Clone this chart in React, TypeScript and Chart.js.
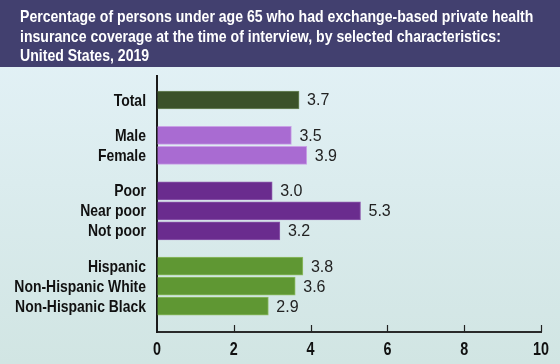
import React, { useEffect, useRef } from "react";
import { Chart, registerables } from "chart.js";

Chart.register(...registerables);

const titleLines = [
  "Percentage of persons under age 65 who had exchange-based private health",
  "insurance coverage at the time of interview, by selected characteristics:",
  "United States, 2019",
];
const categories = [
  "Total",
  "Male",
  "Female",
  "Poor",
  "Near poor",
  "Not poor",
  "Hispanic",
  "Non-Hispanic White",
  "Non-Hispanic Black",
];
const values = [3.7, 3.5, 3.9, 3.0, 5.3, 3.2, 3.8, 3.6, 2.9];
const groupOf = [0, 1, 1, 2, 2, 2, 3, 3, 3];
const groupColors = ["#3b5229", "#a96bd2", "#6a2c8e", "#5f9733"];
const groupBorders = ["#6f8a5e", "#c9a2e6", "#8d5aad", "#8fbc66"];
const xTicks = [0, 2, 4, 6, 8, 10];

const BOLD = '"Liberation Sans", Arial, sans-serif';
const REGULAR = '"Liberation Sans", Arial, sans-serif';
const SQUEEZE = 0.82;
const TITLE_SQUEEZE = 0.865;

const GROUP_GAP = 0.77;
const positions = categories.map((_, i) => i + groupOf[i] * GROUP_GAP);

function drawSqueezed(
  ctx: CanvasRenderingContext2D,
  text: string,
  x: number,
  y: number,
  align: CanvasTextAlign,
  baseline: CanvasTextBaseline,
  font: string,
  color: string,
  squeeze: number = SQUEEZE
) {
  ctx.save();
  ctx.font = font;
  ctx.fillStyle = color;
  ctx.textAlign = align;
  ctx.textBaseline = baseline;
  ctx.translate(x, y);
  ctx.scale(squeeze, 1);
  ctx.fillText(text, 0, 0);
  ctx.restore();
}

export default function App() {
  const canvasRef = useRef<HTMLCanvasElement | null>(null);

  useEffect(() => {
    const canvas = canvasRef.current;
    if (!canvas) return;

    const backgroundPlugin = {
      id: "bg",
      beforeDraw(chart: any) {
        const { ctx, width, height } = chart;
        ctx.save();
        const g = ctx.createLinearGradient(0, 0, 0, height);
        g.addColorStop(0, "#e5f3f9");
        g.addColorStop(1, "#d1e5e3");
        ctx.fillStyle = g;
        ctx.fillRect(0, 0, width, height);
        ctx.fillStyle = "#42406f";
        ctx.fillRect(0, 0, width, 67);
        ctx.restore();
        titleLines.forEach((line, i) => {
          drawSqueezed(ctx, line, 20, 22 + i * 19.7, "left", "alphabetic", `bold 16.3px ${BOLD}`, "#ffffff", TITLE_SQUEEZE);
        });
      },
    };

    const overlayPlugin = {
      id: "overlay",
      afterDatasetsDraw(chart: any) {
        const { ctx } = chart;
        const meta = chart.getDatasetMeta(0);
        ctx.save();
        ctx.font = `16px ${REGULAR}`;
        ctx.fillStyle = "#222222";
        ctx.textAlign = "left";
        ctx.textBaseline = "middle";
        meta.data.forEach((el: any, i: number) => {
          ctx.fillText(values[i].toFixed(1), el.x + 8, el.y + 1);
        });
        ctx.restore();
      },
      afterDraw(chart: any) {
        const { ctx, chartArea } = chart;
        const xScale = chart.scales.x;
        const yScale = chart.scales.y;
        ctx.save();
        ctx.strokeStyle = "#222222";
        ctx.lineWidth = 1.2;
        xScale.ticks.forEach((t: any) => {
          if (t.value <= 0) return;
          const px = Math.round(xScale.getPixelForValue(t.value)) + 0.5;
          ctx.beginPath();
          ctx.moveTo(px, chartArea.bottom);
          ctx.lineTo(px, chartArea.bottom - 7);
          ctx.stroke();
        });
        ctx.restore();
        xScale.ticks.forEach((t: any) => {
          drawSqueezed(
            ctx,
            String(t.label),
            xScale.getPixelForValue(t.value),
            chartArea.bottom + 18.5,
            "center",
            "middle",
            `bold 17.5px ${BOLD}`,
            "#111111"
          );
        });
        yScale.ticks.forEach((t: any) => {
          drawSqueezed(
            ctx,
            String(t.label),
            chartArea.left - 11,
            yScale.getPixelForValue(t.value) + 1,
            "right",
            "middle",
            `bold 17px ${BOLD}`,
            "#111111"
          );
        });
      },
    };

    const chart = new Chart(canvas, {
      type: "bar",
      data: {
        datasets: [
          {
            data: values.map((v, i) => ({ x: v, y: positions[i] })),
            backgroundColor: categories.map((_, i) => groupColors[groupOf[i]]),
            borderColor: categories.map((_, i) => groupBorders[groupOf[i]]),
            borderWidth: 1,
            barThickness: 18,
          },
        ],
      },
      options: {
        indexAxis: "y",
        responsive: false,
        animation: false,
        events: [],
        layout: { padding: { top: 76, right: 19, left: 0, bottom: 0 } },
        plugins: {
          legend: { display: false },
          title: { display: false },
          tooltip: { enabled: false },
        },
        scales: {
          x: {
            type: "linear",
            min: 0,
            max: 10,
            bounds: "data",
            afterBuildTicks(scale: any) {
              scale.ticks = xTicks.map((v) => ({ value: v }));
            },
            afterFit(scale: any) {
              scale.height = 32;
            },
            grid: { display: true, drawOnChartArea: false, drawTicks: false },
            border: { display: true, color: "#2a2a2a", width: 2 },
            ticks: { display: false, padding: 0 },
          },
          y: {
            type: "linear",
            reverse: true,
            offset: false,
            bounds: "data",
            min: -1.2,
            max: 11.6,
            afterBuildTicks(scale: any) {
              scale.ticks = positions.map((p) => ({ value: p }));
            },
            afterFit(scale: any) {
              scale.width = 157;
            },
            grid: { display: true, drawOnChartArea: false, drawTicks: false },
            border: { display: true, color: "#1a1a1a", width: 2 },
            ticks: {
              display: false,
              autoSkip: false,
              padding: 0,
              callback: (_v: any, index: number) => categories[index],
            },
          },
        },
      },
      plugins: [backgroundPlugin, overlayPlugin],
    } as any);

    return () => chart.destroy();
  }, []);

  return (
    <div style={{ position: "absolute", left: 0, top: 0, width: 560, height: 364 }}>
      <canvas ref={canvasRef} width={560} height={364} style={{ width: 560, height: 364, display: "block" }} />
    </div>
  );
}
